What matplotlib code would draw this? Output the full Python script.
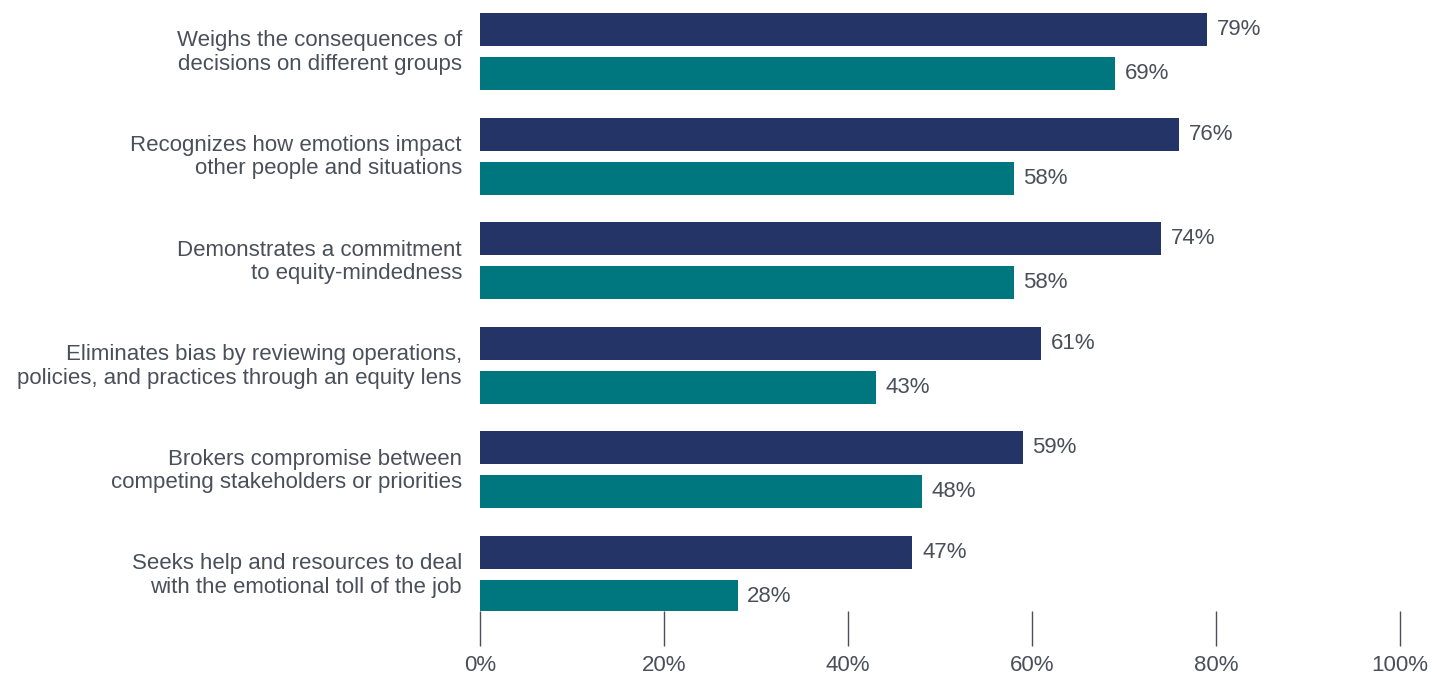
import numpy as np
import matplotlib.pyplot as plt

plt.rcParams['font.family'] = ['Liberation Sans', 'DejaVu Sans']

# Survey items and shares (%) for the two groups
items = [
    "Weighs the consequences of\ndecisions on different groups",
    "Recognizes how emotions impact\nother people and situations",
    "Demonstrates a commitment\nto equity-mindedness",
    "Eliminates bias by reviewing operations,\npolicies, and practices through an equity lens",
    "Brokers compromise between\ncompeting stakeholders or priorities",
    "Seeks help and resources to deal\nwith the emotional toll of the job",
]
group_a = [79, 76, 74, 61, 59, 47]
group_b = [69, 58, 58, 43, 48, 28]
x_ticks = [0, 20, 40, 60, 80, 100]

NAVY = '#243466'
TEAL = '#00767e'
TEXT = '#4a4f5a'
FS = 16

W, H = 1432, 677
fig = plt.figure(figsize=(W / 100, H / 100), dpi=100)
ax = fig.add_axes([480 / W, (H - 611) / H, 920 / W, 611 / H])

y = np.arange(len(items))
bar_h = 0.315
off = 0.21

bars_a = ax.barh(y - off, group_a, height=bar_h, color=NAVY)
bars_b = ax.barh(y + off, group_b, height=bar_h, color=TEAL)

for bars, vals in ((bars_a, group_a), (bars_b, group_b)):
    for b, v in zip(bars, vals):
        ax.annotate(f"{v}%", (b.get_width(), b.get_y() + b.get_height() / 2),
                    xytext=(7, 0), textcoords='offset points',
                    ha='left', va='center', fontsize=FS, color=TEXT)

ax.set_xlim(0, 100)
ax.set_ylim(5.349, -0.492)

# category labels sit a touch above the group centre
ax.set_yticks(y - 0.025)
ax.set_yticklabels(items, fontsize=FS, color=TEXT, ha='right', linespacing=1.15)
ax.tick_params(axis='y', length=0, pad=13)

ax.set_xticks(x_ticks)
ax.set_xticklabels([f"{t}%" for t in x_ticks], fontsize=FS, color=TEXT)
ax.tick_params(axis='x', direction='out', length=25, width=1, color=TEXT, pad=7)

for s in ax.spines.values():
    s.set_visible(False)

fig.savefig('out.png', dpi=100)
